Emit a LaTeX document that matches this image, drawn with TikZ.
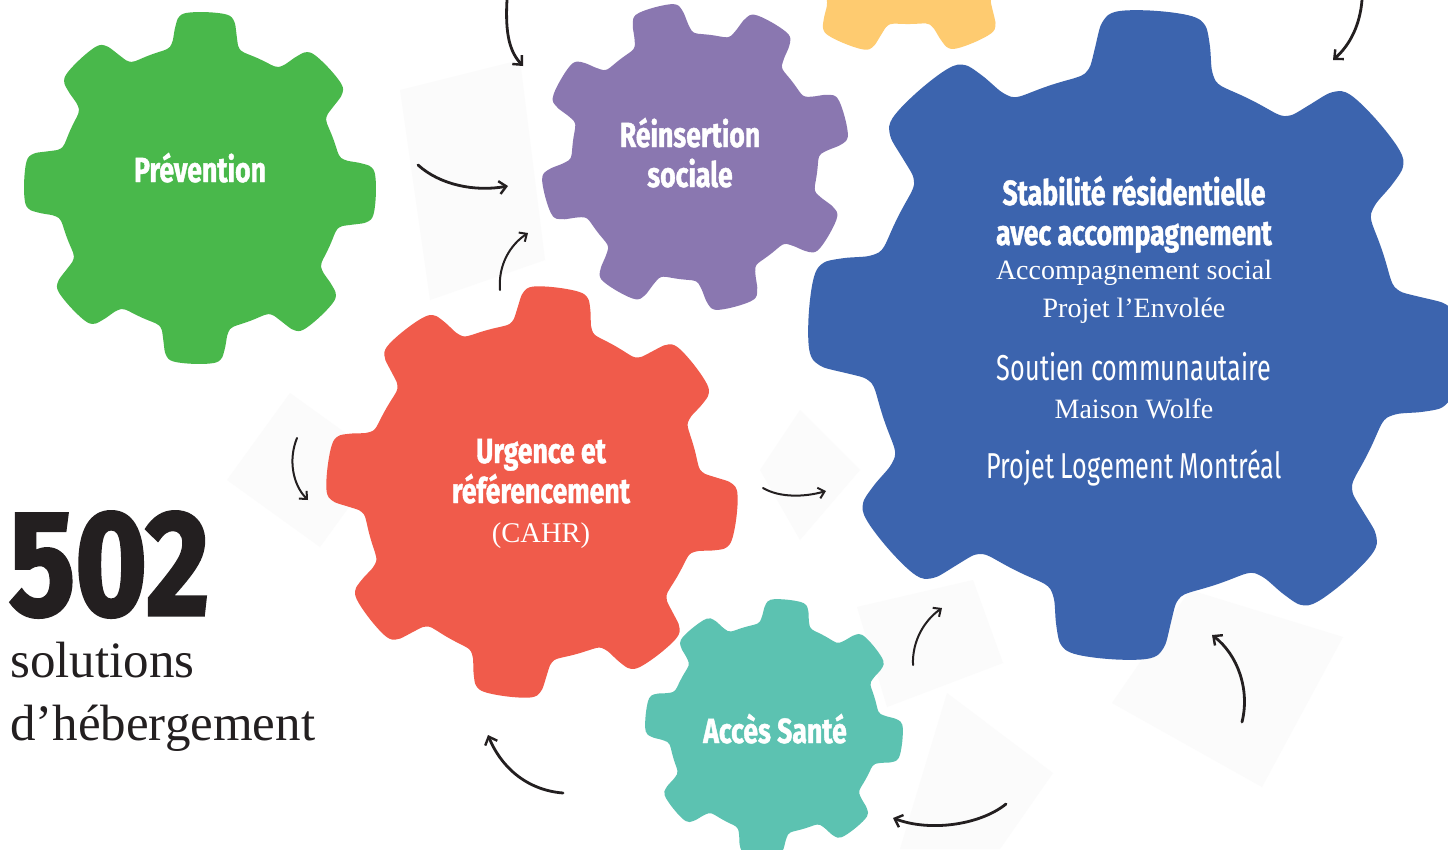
\documentclass[tikz,border=0pt]{standalone}
\usepackage{fontspec}
\setmainfont{Liberation Serif}
\newfontfamily\condf[FakeStretch=0.76,BoldFeatures={FakeBold=1.2}]{Fira Sans}
\newfontfamily\condr[FakeStretch=0.70]{Fira Sans}
\newfontfamily\bignum[FakeStretch=0.82,BoldFeatures={FakeBold=2}]{Fira Sans}
\usetikzlibrary{arrows.meta}
\definecolor{ggreen}{HTML}{49B84B}
\definecolor{gpurple}{HTML}{8A77B0}
\definecolor{gblue}{HTML}{3C64AE}
\definecolor{gred}{HTML}{F05B4B}
\definecolor{gteal}{HTML}{5CC2B1}
\definecolor{gyellow}{HTML}{FECB70}
\definecolor{ink}{HTML}{231F20}
\definecolor{ghost}{HTML}{FBFBFB}
\newcommand\gearshape[6]{%
  \fill[#6] plot[domain=0:360,samples=241,smooth,variable=\t]
  ({#1+(#3+(#4-#3)*(0.5+0.5*tanh(3.5*cos(8*(\t-#5)))))*cos(\t)},
   {#2+(#3+(#4-#3)*(0.5+0.5*tanh(3.5*cos(8*(\t-#5)))))*sin(\t)}) -- cycle;}
\tikzset{
  headb/.style={text=white,anchor=base,inner sep=0pt,font=\condf\bfseries\fontsize{35}{38}\selectfont},
  headr/.style={text=white,anchor=base,inner sep=0pt,font=\condr\fontsize{36}{38}\selectfont},
  subser/.style={text=white,anchor=base,inner sep=0pt,font=\fontsize{28}{30}\selectfont},
  arrowline/.style={draw=ink,line width=2.8pt,line cap=round,-{Straight Barb[length=7pt,width=13pt,line width=2.4pt]}},
  thinarrow/.style={draw=ink,line width=2pt,line cap=round,-{Straight Barb[length=6pt,width=11pt,line width=2pt]}},
  bigtext/.style={text=ink,anchor=base west,inner sep=0pt}
}
\begin{document}
\begin{tikzpicture}[x=1pt,y=-1pt]
\useasboundingbox (0,0) rectangle (1448,849);
\fill[white] (0,0) rectangle (1448,849);
% faint background shapes
\fill[ghost] (290,393) -- (383,460) -- (320,547) -- (227,480) -- cycle;
\fill[ghost] (857,607) -- (973,580) -- (1003,663) -- (887,707) -- cycle;
\fill[ghost] (947,693) -- (1053,773) -- (1000,849) -- (900,849) -- cycle;
\fill[ghost] (1112,703) -- (1190,590) -- (1343,637) -- (1262,787) -- cycle;
\fill[ghost] (400,90) -- (520,60) -- (545,260) -- (430,300) -- cycle;
\fill[ghost] (760,470) -- (800,410) -- (860,470) -- (800,540) -- cycle;
% gears
\gearshape{908}{-112}{136}{168}{22}{gyellow}
\gearshape{200}{188}{142}{176}{2}{ggreen}
\gearshape{695}{157}{123}{155}{30}{gpurple}
\gearshape{1133}{335}{263}{325}{4}{gblue}
\gearshape{532}{492}{168}{206}{7}{gred}
\gearshape{774}{728}{105}{129}{6}{gteal}
% texts
\node[headb] (prev) at (200,182) {Prévention};
\node[headb] (rein1) at (690,147) {Réinsertion};
\node[headb] (rein2) at (690,187) {sociale};
\node[headb] (stab1) at (1134,205) {Stabilité résidentielle};
\node[headb] (stab2) at (1134,245) {avec accompagnement};
\node[subser] (stab3) at (1134,279) {Accompagnement social};
\node[subser] (stab4) at (1134,317) {Projet l’Envolée};
\node[headr] (stab5) at (1134,380) {Soutien communautaire};
\node[subser] (stab6) at (1134,418) {Maison Wolfe};
\node[headr] (stab7) at (1134,478) {Projet Logement Montréal};
\node[headb] (urg1) at (541,463) {Urgence et};
\node[headb] (urg2) at (541,503) {référencement};
\node[subser,font=\fontsize{28.5}{30}\selectfont] (urg3) at (541,542) {(CAHR)};
\node[headb] (acces) at (775,743) {Accès Santé};
\node[bigtext,text depth=0pt,font=\bignum\bfseries\fontsize{150}{150}\selectfont] (num) at (9,615) {502};
\node[bigtext,text height=35pt,font=\fontsize{51}{52}\selectfont] (sol1) at (10,677) {solutions};
\node[bigtext,font=\fontsize{51}{52}\selectfont] (sol2) at (10,740) {d’hébergement};
% arrows
\coordinate (a1s) at (507,0);    \coordinate (a1e) at (523,66);
\coordinate (a2s) at (418,165);  \coordinate (a2e) at (508,186);
\coordinate (a3s) at (500,290);  \coordinate (a3e) at (528,233);
\coordinate (a4s) at (297,438);  \coordinate (a4e) at (308,500);
\coordinate (a5s) at (763,488);  \coordinate (a5e) at (826,491);
\coordinate (a6s) at (1362,0);   \coordinate (a6e) at (1333,60);
\coordinate (a7s) at (913,665);  \coordinate (a7e) at (942,608);
\coordinate (a8s) at (1242,722); \coordinate (a8e) at (1212,635);
\coordinate (a9s) at (1006,804); \coordinate (a9e) at (893,818);
\coordinate (a10s) at (563,793); \coordinate (a10e) at (488,735);
\draw[arrowline] (a1s) .. controls (505,35) and (510,52) .. (a1e);
\draw[arrowline] (a2s) .. controls (440,185) and (475,192) .. (a2e);
\draw[thinarrow] (a3s) .. controls (498,265) and (510,245) .. (a3e);
\draw[thinarrow] (a4s) .. controls (288,460) and (293,485) .. (a4e);
\draw[thinarrow] (a5s) .. controls (780,498) and (805,497) .. (a5e);
\draw[arrowline] (a6s) .. controls (1360,25) and (1350,45) .. (a6e);
\draw[thinarrow] (a7s) .. controls (912,640) and (925,620) .. (a7e);
\draw[arrowline] (a8s) .. controls (1250,690) and (1238,655) .. (a8e);
\draw[arrowline] (a9s) .. controls (980,825) and (930,832) .. (a9e);
\draw[arrowline] (a10s) .. controls (525,790) and (500,765) .. (a10e);
\end{tikzpicture}
\end{document}
